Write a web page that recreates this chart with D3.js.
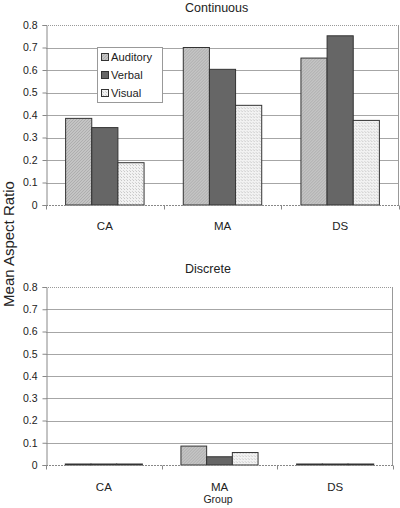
<!DOCTYPE html>
<html>
<head>
<meta charset="utf-8">
<script src="https://cdn.jsdelivr.net/npm/d3@7"></script>
<style>
  body { margin: 0; background: #fff; }
  text { font-family: "Liberation Sans", Arial, sans-serif; fill: #222; }
</style>
</head>
<body>
<script>
// data
const groups = ["CA", "MA", "DS"];
const series = ["Auditory", "Verbal", "Visual"];
const continuous = [
  [0.385, 0.344, 0.188],
  [0.700, 0.603, 0.443],
  [0.653, 0.752, 0.376]
];
const discrete = [
  [0, 0, 0],
  [0.085, 0.037, 0.056],
  [0, 0, 0]
];
const yTicks = [0, 0.1, 0.2, 0.3, 0.4, 0.5, 0.6, 0.7, 0.8];

const width = 400, height = 508;

const svg = d3.select("body").append("svg")
  .attr("width", width)
  .attr("height", height);

// fill patterns
const defs = svg.append("defs");
const pa = defs.append("pattern").attr("id", "pAud")
  .attr("width", 3).attr("height", 3).attr("patternUnits", "userSpaceOnUse");
pa.append("rect").attr("width", 3).attr("height", 3).attr("fill", "#c4c4c4");
pa.append("path").attr("d", "M0,3 L3,0").attr("stroke", "#a8a8a8").attr("stroke-width", 0.8);

const pv = defs.append("pattern").attr("id", "pVis")
  .attr("width", 3).attr("height", 3).attr("patternUnits", "userSpaceOnUse");
pv.append("rect").attr("width", 3).attr("height", 3).attr("fill", "#f2f2f2");
pv.append("rect").attr("x", 0).attr("y", 0).attr("width", 1).attr("height", 1).attr("fill", "#c8c8c8");
pv.append("rect").attr("x", 2).attr("y", 2).attr("width", 1).attr("height", 1).attr("fill", "#d4d4d4");

const fills = ["url(#pAud)", "#666666", "url(#pVis)"];

function panel(title, data, box, titleY, labelY) {
  const x = d3.scaleBand().domain(groups).range([box.left, box.right]);
  const xi = d3.scaleBand().domain(series).range([0, x.bandwidth()])
    .paddingInner(0).paddingOuter(0.75);
  const y = d3.scaleLinear().domain([0, 0.8]).range([box.bottom, box.top]);

  const g = svg.append("g");

  // gridlines
  g.selectAll(".grid").data(yTicks.slice(1, -1)).enter().append("line")
    .attr("x1", box.left).attr("x2", box.right)
    .attr("y1", d => Math.round(y(d)) + 0.5).attr("y2", d => Math.round(y(d)) + 0.5)
    .attr("stroke", "#a6a6a6");

  // plot border
  g.append("line")
    .attr("x1", box.left).attr("x2", box.right)
    .attr("y1", box.top + 0.5).attr("y2", box.top + 0.5)
    .attr("stroke", "#999").attr("stroke-dasharray", "1,1");
  g.append("line")
    .attr("x1", box.right - 0.5).attr("x2", box.right - 0.5)
    .attr("y1", box.top).attr("y2", box.bottom)
    .attr("stroke", "#999");

  // bars
  const grp = g.selectAll(".grp").data(data).enter().append("g")
    .attr("transform", (d, i) => `translate(${x(groups[i])},0)`);
  grp.selectAll("rect").data(d => d).enter().append("rect")
    .attr("x", (d, j) => xi(series[j]))
    .attr("width", xi.bandwidth())
    .attr("y", d => Math.min(y(d), y(0) - 1))
    .attr("height", d => Math.max(1, y(0) - y(d)))
    .attr("fill", (d, j) => fills[j])
    .attr("stroke", "#333")
    .attr("stroke-width", 1);

  // y axis
  const ya = g.append("g")
    .attr("transform", `translate(${box.left + 0.5},0)`)
    .call(d3.axisLeft(y).tickValues(yTicks).tickSize(4)
      .tickFormat(d => d === 0 ? "0" : d3.format(".1f")(d)));
  ya.select(".domain").attr("stroke", "#888");
  ya.selectAll(".tick line").attr("stroke", "#888");
  ya.selectAll(".tick text")
    .attr("font-size", 10.5).attr("fill", "#333")
    .attr("font-family", "Liberation Sans, Arial, sans-serif")
    .attr("x", -9);

  // x axis with ticks between groups
  const xa = g.append("g")
    .attr("transform", `translate(0,${box.bottom + 0.5})`);
  xa.append("line").attr("x1", box.left).attr("x2", box.right)
    .attr("stroke", "#888").attr("stroke-dasharray", "2,1");
  const bounds = groups.map(gname => x(gname)).concat([box.right]);
  xa.selectAll(".xt").data(bounds).enter().append("line")
    .attr("x1", d => Math.round(d) + 0.5).attr("x2", d => Math.round(d) + 0.5)
    .attr("y1", 0).attr("y2", 4).attr("stroke", "#888");
  xa.selectAll(".xl").data(groups).enter().append("text")
    .attr("x", d => x(d) + x.bandwidth() / 2)
    .attr("y", labelY - box.bottom)
    .attr("text-anchor", "middle")
    .attr("font-size", 11.5)
    .text(d => d);

  // title
  svg.append("text")
    .attr("x", 185).attr("y", titleY)
    .attr("font-size", 12.5)
    .text(title);
}

panel("Continuous", continuous, { left: 46, right: 399, top: 25, bottom: 205 }, 12, 229);
panel("Discrete", discrete, { left: 46, right: 393, top: 287, bottom: 465 }, 273, 490);

// legend
const lg = svg.append("g").attr("transform", "translate(97,47)");
lg.append("rect").attr("x", 0.5).attr("y", 0.5).attr("width", 65).attr("height", 55)
  .attr("fill", "#fff").attr("stroke", "#999");
series.forEach((s, i) => {
  const yy = 6 + i * 18;
  lg.append("rect").attr("x", 4.5).attr("y", yy + 0.5).attr("width", 7).attr("height", 7)
    .attr("fill", fills[i]).attr("stroke", "#333");
  lg.append("text").attr("x", 14).attr("y", yy + 8)
    .attr("font-size", 11.2).text(s);
});

// axis titles
svg.append("text")
  .attr("transform", "translate(14,244) rotate(-90)")
  .attr("text-anchor", "middle")
  .attr("font-size", 15)
  .text("Mean Aspect Ratio");

svg.append("text")
  .attr("x", 218).attr("y", 503)
  .attr("text-anchor", "middle")
  .attr("font-size", 10.5)
  .text("Group");
</script>
</body>
</html>
